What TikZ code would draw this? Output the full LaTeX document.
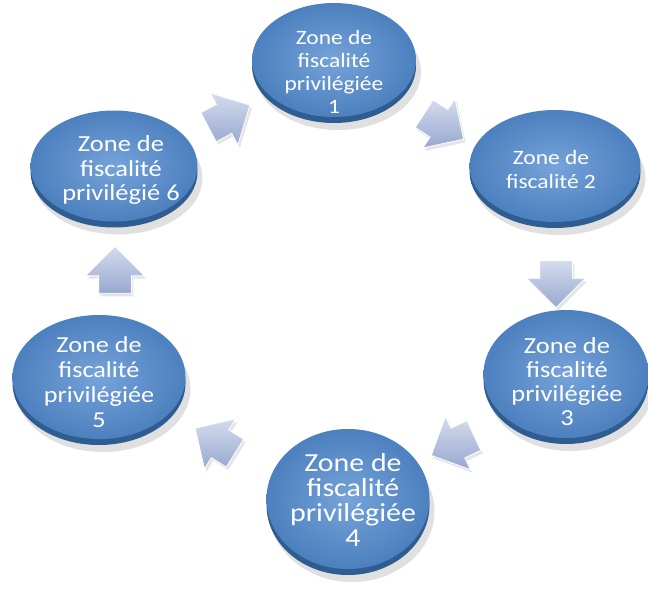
\documentclass[tikz,border=0pt]{standalone}
\usepackage{fontspec}
\setmainfont{Carlito}[FakeStretch=1.15]
\usetikzlibrary{shapes.geometric,shapes.arrows,shadows}
\definecolor{discblue}{HTML}{4C80BE}
\definecolor{disclight}{HTML}{76A3DA}
\definecolor{discedge}{HTML}{2F5D92}
\definecolor{arrowfill}{HTML}{B7C4E2}
\definecolor{arrowdark}{HTML}{98A8CF}
\tikzset{
  disc/.style={ellipse, inner sep=0pt, inner color=disclight, outer color=discblue},
  disctext/.style={text=white, align=center, inner sep=0pt},
  blockarrow/.style={single arrow, minimum height=47pt, inner xsep=0pt, inner ysep=16pt,
    single arrow head extend=13pt, single arrow head indent=0pt, top color=arrowfill!60!white,
    bottom color=arrowdark, draw=white, line width=0.8pt,
    drop shadow={shadow xshift=2pt, shadow yshift=-3pt, fill=black!20}}
}
\begin{document}
\begin{tikzpicture}[x=1pt,y=-1pt]
\useasboundingbox (0,0) rectangle (648,589);
% discs: name / centre / size / text centre / font
\foreach \name/\cx/\cy/\w/\h/\tx/\ty/\fs/\bs/\txt in {
    z1/334/60/164/114/334/72/20.4/22.8/{Zone de\\fiscalité\\privilégiée\\1},
    z2/555/166/171/112/551/169/20.4/24/{Zone de\\fiscalité 2},
    z3/566/374/165/128/567/382/23/24/{Zone de\\fiscalité\\privilégiée\\3},
    z4/348/499/163/140/353/500/26/25/{Zone de\\fiscalité\\privilégiée\\4},
    z5/99/377/173/124/99/382/22.8/25/{Zone de\\fiscalité\\privilégiée\\5},
    z6/114/166/167/111/121/170/23/24.5/{Zone de\\fiscalité\\privilégié 6}}{
  \fill[black!12] (\cx+4,\cy+12) ellipse ({\w/2+1} and {\h/2+1});
  \fill[discedge] (\cx,\cy+6) ellipse ({\w/2} and {\h/2});
  \node[disc, minimum width=\w pt, minimum height=\h pt] (\name) at (\cx,\cy) {};
  \node[disctext, font=\fontsize{\fs}{\bs}\selectfont] (\name t) at (\tx,\ty) {\txt};
}
% arrows
\node[blockarrow, rotate=-33] (a12) at (437,122) {};
\node[blockarrow, rotate=-90] (a23) at (556,276) {};
\node[blockarrow, rotate=205] (a34) at (460,442) {};
\node[blockarrow, rotate=148] (a45) at (222,445) {};
\node[blockarrow, rotate=90] (a56) at (115,278) {};
\node[blockarrow, rotate=28] (a61) at (222,120) {};
\end{tikzpicture}
\end{document}
